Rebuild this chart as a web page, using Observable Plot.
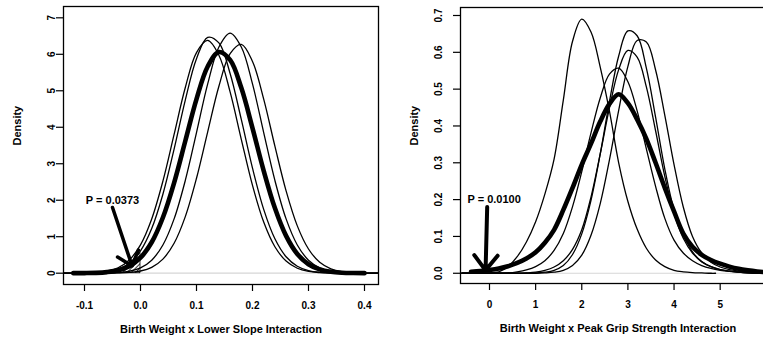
<!DOCTYPE html>
<html><head><meta charset="utf-8">
<script src="https://cdn.jsdelivr.net/npm/d3@7"></script>
<script src="https://cdn.jsdelivr.net/npm/@observablehq/plot@0.6"></script>
<style>
html,body{margin:0;padding:0;background:#fff;overflow:hidden}
#wrap{display:flex;width:763px;height:343px;overflow:hidden;background:#fff}
#wrap svg{flex:0 0 auto;display:block}
</style></head><body><div id="wrap"></div>
<script>
// ---------- Left panel: Birth Weight x Lower Slope Interaction ----------
const xL = [-0.14,-0.12,-0.10,-0.08,-0.06,-0.04,-0.02,0.00,0.02,0.04,0.06,0.08,0.10,0.12,0.14,0.16,0.18,0.20,0.22,0.24,0.26,0.28,0.30,0.32,0.34,0.36,0.38,0.40,0.42,0.44];
const yA = [0.000,0.001,0.003,0.012,0.038,0.108,0.274,0.614,1.224,2.165,3.402,4.746,5.879,6.465,6.313,5.474,4.214,2.880,1.748,0.942,0.451,0.191,0.072,0.024,0.007,0.002,0,0,0,0];
const yB = [0,0,0,0.001,0.005,0.017,0.053,0.146,0.357,0.774,1.488,2.542,3.853,5.187,6.200,6.580,6.200,5.187,3.853,2.542,1.488,0.774,0.357,0.146,0.053,0.017,0.005,0.001,0,0];
const yC = [0.000,0.001,0.005,0.018,0.055,0.149,0.361,0.778,1.487,2.523,3.803,5.089,6.047,6.379,5.975,4.969,3.670,2.406,1.401,0.724,0.332,0.135,0.049,0.016,0.004,0.001,0,0,0,0];
const yD = [0,0,0,0,0.001,0.006,0.020,0.060,0.161,0.386,0.821,1.551,2.602,3.875,5.124,6.016,6.272,5.805,4.771,3.482,2.256,1.297,0.663,0.300,0.121,0.043,0.014,0.004,0.001,0];
const xLT = [-0.12,-0.10,-0.08,-0.06,-0.04,-0.02,0.00,0.02,0.04,0.06,0.08,0.10,0.12,0.14,0.16,0.18,0.20,0.22,0.24,0.26,0.28,0.30,0.32,0.34,0.36,0.38,0.40];
const yLT = [0.001,0.003,0.009,0.029,0.078,0.192,0.425,0.848,1.527,2.478,3.623,4.772,5.666,6.063,5.846,5.080,3.978,2.807,1.785,1.023,0.528,0.246,0.103,0.039,0.013,0.004,0.001];
const hatchXL = [-0.05,-0.04,-0.03,-0.02,-0.01,0.00];
const hatchYL = [0.06,0.10,0.16,0.24,0.36,0.55];
const xTicksL = [-0.1,0.0,0.1,0.2,0.3,0.4];
const xLabelsL = ["-0.1","0.0","0.1","0.2","0.3","0.4"];
const yTicksL = [0,1,2,3,4,5,6,7];
const yLabelsL = ["0","1","2","3","4","5","6","7"];
const pLabelL = ["P = 0.0373"];
const pXL = [-0.05], pYL = [2.0];
const arrX1L = [-0.05], arrY1L = [1.8], arrX2L = [-0.015], arrY2L = [0.2];
const xTitleL = "Birth Weight x Lower Slope Interaction";

// ---------- Right panel: Birth Weight x Peak Grip Strength Interaction ----------
const xR = [-0.6,-0.4,-0.2,0.0,0.2,0.4,0.6,0.8,1.0,1.2,1.4,1.6,1.8,2.0,2.2,2.4,2.6,2.8,3.0,3.2,3.4,3.6,3.8,4.0,4.2,4.4,4.6,4.8,5.0,5.2,5.4,5.6,5.8,6.0,6.2];
const yF = [0,0,0,0,0,0,0,0,0.001,0.003,0.008,0.021,0.051,0.107,0.198,0.324,0.466,0.590,0.658,0.645,0.557,0.424,0.283,0.172,0.105,0.058,0.032,0.018,0.010,0.006,0.003,0.001,0,0,0];
const yG = [0,0,0,0,0,0,0,0,0,0.001,0.003,0.008,0.021,0.049,0.103,0.189,0.308,0.442,0.562,0.632,0.628,0.552,0.429,0.295,0.180,0.100,0.055,0.030,0.017,0.010,0.006,0.003,0.001,0,0];
const yH = [0,0,0,0,0,0,0,0.001,0.003,0.008,0.017,0.034,0.065,0.118,0.207,0.324,0.449,0.553,0.605,0.587,0.506,0.387,0.263,0.162,0.095,0.055,0.031,0.018,0.010,0.006,0.003,0.001,0,0,0];
const yI = [0,0,0,0,0,0.001,0.004,0.009,0.018,0.034,0.062,0.108,0.181,0.276,0.381,0.476,0.541,0.557,0.520,0.441,0.338,0.236,0.149,0.090,0.055,0.034,0.021,0.013,0.008,0.005,0.003,0.001,0,0,0];
const xE = [-0.6,-0.4,-0.2,0.0,0.2,0.4,0.6,0.8,1.0,1.2,1.4,1.6,1.8,2.0,2.2,2.4,2.6,2.8,3.0,3.2,3.4,3.6,3.8,4.0,4.2,4.4,4.6,4.8,4.9];
const yE = [0,0,0,0.001,0.004,0.018,0.045,0.085,0.140,0.215,0.310,0.470,0.630,0.690,0.655,0.560,0.440,0.300,0.195,0.120,0.068,0.036,0.018,0.008,0.004,0.002,0.001,0,0];
const xRT = [-0.4,-0.2,0.0,0.2,0.4,0.6,0.8,1.0,1.2,1.4,1.6,1.8,2.0,2.2,2.4,2.6,2.8,3.0,3.2,3.4,3.6,3.8,4.0,4.2,4.4,4.6,4.8,5.0,5.2,5.4,5.6,5.8,6.0,6.2];
const yRT = [0.004,0.006,0.009,0.013,0.019,0.028,0.040,0.057,0.083,0.118,0.172,0.232,0.295,0.352,0.412,0.460,0.486,0.462,0.418,0.365,0.300,0.232,0.168,0.108,0.072,0.050,0.036,0.026,0.018,0.012,0.008,0.005,0.003,0.002];
const xTicksR = [0,1,2,3,4,5,6];
const xLabelsR = ["0","1","2","3","4","5","6"];
const yTicksR = [0,0.1,0.2,0.3,0.4,0.5,0.6,0.7];
const yLabelsR = ["0.0","0.1","0.2","0.3","0.4","0.5","0.6","0.7"];
const pLabelR = ["P = 0.0100"];
const pXR = [0.1], pYR = [0.2];
const arrX1R = [-0.05], arrY1R = [0.18], arrX2R = [-0.085], arrY2R = [0.008];
const xTitleR = "Birth Weight x Peak Grip Strength Interaction";

// ---------- rendering ----------
const style = {fontFamily: "'Liberation Sans', Arial, Helvetica, sans-serif", fontWeight: "bold", fontSize: "10px", background: "#fff", color: "black"};

function panel(o) {
  const fmt = new Map(o.xTicks.map((t, i) => [t, o.xLabels[i]]));
  const marks = [
    Plot.ruleY([0], {stroke: "#d6d6d6", strokeWidth: 1.2}),
  ];
  if (o.hatchX) marks.push(Plot.areaY(o.hatchX, {x: o.hatchX, y: o.hatchY, fill: "url(#hatchL)", stroke: "black", strokeWidth: 0.8}));
  for (const s of o.thin) {
    marks.push(Plot.line(s[0], {x: s[0], y: s[1], curve: "catmull-rom", stroke: "black", strokeWidth: 1.3, clip: true}));
  }
  marks.push(Plot.line(o.thick[0], {x: o.thick[0], y: o.thick[1], curve: "catmull-rom", stroke: "black", strokeWidth: 4.6, strokeLinecap: "round", strokeLinejoin: "round", clip: true}));
  marks.push(Plot.arrow(o.arr[0], {x1: o.arr[0], y1: o.arr[1], x2: o.arr[2], y2: o.arr[3], stroke: "black", strokeWidth: o.arrW, headAngle: o.headAngle, headLength: o.headLength}));
  marks.push(Plot.text(o.pLabel, {x: o.pX, y: o.pY, text: o.pLabel, fontSize: 11}));
  marks.push(Plot.frame({stroke: "black", strokeWidth: 1.3}));
  marks.push(Plot.axisX({ticks: o.xTicks, tickFormat: d => fmt.get(d), tickSize: 7, tickPadding: 10, label: null, fontSize: 10, strokeWidth: 1.2}));
  marks.push(Plot.axisY({ticks: o.yTicks, tickFormat: () => "", tickSize: 7, label: null, strokeWidth: 1.2}));
  marks.push(Plot.text(o.yTicks, {y: o.yTicks, text: o.yLabels, frameAnchor: "left", dx: o.yLabDx, rotate: -90, textAnchor: "middle", lineAnchor: "middle", fontSize: 10}));
  marks.push(Plot.text(["Density"], {frameAnchor: "left", dx: -46, rotate: -90, fontSize: 11, lineAnchor: "middle"}));
  marks.push(Plot.text([o.xTitle], {frameAnchor: "bottom", dy: 45, fontSize: 11, lineAnchor: "middle"}));
  return Plot.plot({
    width: o.width, height: 343,
    marginLeft: o.ml, marginRight: 5, marginTop: o.mt, marginBottom: o.mb,
    style,
    x: {domain: o.xDomain},
    y: {domain: o.yDomain},
    marks
  });
}

const left = panel({
  width: 383, ml: 63, mt: 6, mb: 59,
  xDomain: [-0.1375, 0.425], yDomain: [-0.31, 7.31],
  hatchX: hatchXL, hatchY: hatchYL,
  thin: [[xL, yA], [xL, yB], [xL, yC], [xL, yD]],
  thick: [xLT, yLT],
  arr: [arrX1L, arrY1L, arrX2L, arrY2L], arrW: 3.5, headAngle: 80, headLength: 7.3,
  pLabel: pLabelL, pX: pXL, pY: pYL,
  xTicks: xTicksL, xLabels: xLabelsL, yTicks: yTicksL, yLabels: yLabelsL, yLabDx: -12,
  xTitle: xTitleL
});
const right = panel({
  width: 397, ml: 77, mt: 7, mb: 60,
  xDomain: [-0.6285, 6.199], yDomain: [-0.0278, 0.7217],
  thin: [[xE, yE], [xR, yF], [xR, yG], [xR, yH], [xR, yI]],
  thick: [xRT, yRT],
  arr: [arrX1R, arrY1R, arrX2R, arrY2R], arrW: 4, headAngle: 76, headLength: 7.1,
  pLabel: pLabelR, pX: pXR, pY: pYR,
  xTicks: xTicksR, xLabels: xLabelsR, yTicks: yTicksR, yLabels: yLabelsR, yLabDx: -21.5,
  xTitle: xTitleR
});

const ns = "http://www.w3.org/2000/svg";
const defs = document.createElementNS(ns, "defs");
defs.innerHTML = '<pattern id="hatchL" patternUnits="userSpaceOnUse" width="3" height="3" patternTransform="rotate(45)"><line x1="0" y1="0" x2="0" y2="3" stroke="black" stroke-width="1.6"/></pattern>';
left.insertBefore(defs, left.firstChild);

const wrap = document.getElementById("wrap");
wrap.appendChild(left);
wrap.appendChild(right);
</script></body></html>
